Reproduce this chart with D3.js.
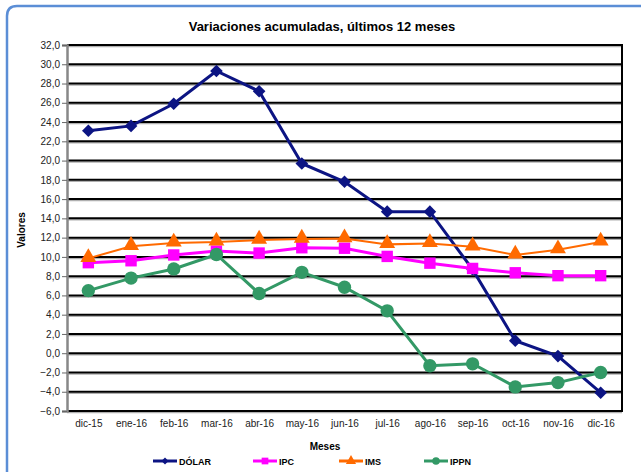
<!DOCTYPE html>
<html>
<head>
<meta charset="utf-8">
<script src="https://cdn.jsdelivr.net/npm/d3@7"></script>
<style>
  body { margin: 0; background: #fff; }
  svg { display: block; font-family: "Liberation Sans", Arial, sans-serif; }
</style>
</head>
<body>
<svg id="chart" width="641" height="472"></svg>
<script>
// datos
var meses = ["dic-15", "ene-16", "feb-16", "mar-16", "abr-16", "may-16", "jun-16", "jul-16", "ago-16", "sep-16", "oct-16", "nov-16", "dic-16"];
var dolar = [23.1, 23.6, 25.9, 29.3, 27.2, 19.7, 17.8, 14.7, 14.7, 8.7, 1.3, -0.3, -4.1];
var ipc = [9.4, 9.6, 10.2, 10.6, 10.4, 10.95, 10.9, 10.05, 9.35, 8.8, 8.35, 8.05, 8.05];
var ims = [9.85, 11.1, 11.45, 11.55, 11.75, 11.85, 11.9, 11.3, 11.4, 11.05, 10.2, 10.75, 11.55];
var ippn = [6.5, 7.8, 8.75, 10.25, 6.2, 8.4, 6.85, 4.4, -1.3, -1.1, -3.5, -3.05, -2.0];
var yTicks = d3.range(-6, 33, 2);

var series = [
  { name: "DÓLAR", values: dolar, color: "#0c1483", marker: "diamond" },
  { name: "IPC", values: ipc, color: "#ff00ff", marker: "square" },
  { name: "IMS", values: ims, color: "#ff6a00", marker: "triangle" },
  { name: "IPPN", values: ippn, color: "#339966", marker: "circle" }
];

var svg = d3.select("#chart");
var plotL = 67, plotR = 622, plotT = 45, plotB = 411;

// marco exterior
svg.append("path")
  .attr("d", "M7,472 L7,16 Q7,6 17,6 L641,6")
  .attr("fill", "none")
  .attr("stroke", "#5b8ed6")
  .attr("stroke-width", 2.5);

svg.append("text")
  .attr("x", 322).attr("y", 31)
  .attr("text-anchor", "middle")
  .attr("font-size", 13).attr("font-weight", "bold")
  .text("Variaciones acumuladas, últimos 12 meses");

var x = d3.scalePoint().domain(meses).range([plotL, plotR]).padding(0.5);
var y = d3.scaleLinear().domain([-6, 32]).range([plotB, plotT]);

// lineas de division
svg.append("g").selectAll("line")
  .data(yTicks)
  .enter().append("line")
  .attr("x1", plotL).attr("x2", plotR)
  .attr("y1", function(d) { return y(d) + 1.5; }).attr("y2", function(d) { return y(d) + 1.5; })
  .attr("stroke", "#b0b0b0").attr("stroke-width", 1.5);
svg.append("g").selectAll("line")
  .data(yTicks)
  .enter().append("line")
  .attr("x1", plotL).attr("x2", plotR)
  .attr("y1", function(d) { return y(d); }).attr("y2", function(d) { return y(d); })
  .attr("stroke", "#000").attr("stroke-width", 2);

svg.append("line")
  .attr("x1", plotR).attr("x2", plotR).attr("y1", plotT - 1).attr("y2", plotB + 1)
  .attr("stroke", "#000").attr("stroke-width", 2);

// eje y
var yAxis = svg.append("g")
  .attr("transform", "translate(" + plotL + ",0)")
  .call(d3.axisLeft(y).tickValues(yTicks).tickSize(5).tickPadding(2)
    .tickFormat(function(d) { return d3.format(".1f")(d).replace(".", ","); }));
yAxis.select(".domain").attr("stroke", "#888").attr("stroke-width", 2.5);
yAxis.selectAll(".tick line").attr("stroke", "#666");
yAxis.selectAll("text").attr("font-size", 10).attr("fill", "#222")
  .attr("font-family", "Liberation Sans, Arial, sans-serif");

// eje x
var xAxis = svg.append("g")
  .attr("transform", "translate(0," + plotB + ")")
  .call(d3.axisBottom(x).tickSize(0).tickPadding(9));
xAxis.select(".domain").remove();
xAxis.selectAll("text").attr("font-size", 10).attr("fill", "#222")
  .attr("font-family", "Liberation Sans, Arial, sans-serif");

svg.append("text")
  .attr("x", 325).attr("y", 450)
  .attr("text-anchor", "middle")
  .attr("font-size", 10).attr("font-weight", "bold")
  .text("Meses");

svg.append("text")
  .attr("transform", "translate(25,230) rotate(-90)")
  .attr("text-anchor", "middle")
  .attr("font-size", 10).attr("font-weight", "bold")
  .text("Valores");

var symbols = {
  diamond: d3.symbol().type(d3.symbolSquare).size(80),
  square: d3.symbol().type(d3.symbolSquare).size(130),
  triangle: d3.symbol().type(d3.symbolTriangle).size(110),
  circle: d3.symbol().type(d3.symbolCircle).size(140)
};

var line = d3.line()
  .x(function(d, i) { return x(meses[i]); })
  .y(function(d) { return y(d); });

// orden de series: la ultima queda encima
series.forEach(function(s) {
  svg.append("path")
    .datum(s.values)
    .attr("d", line)
    .attr("fill", "none")
    .attr("stroke", s.color)
    .attr("stroke-width", s.marker === "triangle" ? 2 : 3);
  svg.append("g").selectAll("path")
    .data(s.values)
    .enter().append("path")
    .attr("d", symbols[s.marker])
    .attr("transform", function(d, i) {
      var t = "translate(" + x(meses[i]) + "," + y(d) + ")";
      if (s.marker === "diamond") t += " rotate(45)";
      if (s.marker === "triangle") t += " translate(0,-1)";
      return t;
    })
    .attr("fill", s.color);
});

// leyenda
var legendX = [153, 253, 339, 424];
var legend = svg.append("g").selectAll("g")
  .data(series)
  .enter().append("g")
  .attr("transform", function(d, i) { return "translate(" + legendX[i] + ",461)"; });
legend.append("line")
  .attr("x1", 0).attr("x2", 24)
  .attr("stroke", function(d) { return d.color; })
  .attr("stroke-width", 3);
legend.append("path")
  .attr("d", function(d) {
    return d3.symbol().type(d.marker === "circle" ? d3.symbolCircle :
      d.marker === "triangle" ? d3.symbolTriangle : d3.symbolSquare)
      .size(d.marker === "diamond" ? 25 : 45)();
  })
  .attr("transform", function(d) { return "translate(12,0)" + (d.marker === "diamond" ? " rotate(45)" : ""); })
  .attr("fill", function(d) { return d.color; });
legend.append("text")
  .attr("x", 26).attr("y", 3.5)
  .attr("font-size", 9).attr("font-weight", "bold")
  .text(function(d) { return d.name; });
</script>
</body>
</html>
